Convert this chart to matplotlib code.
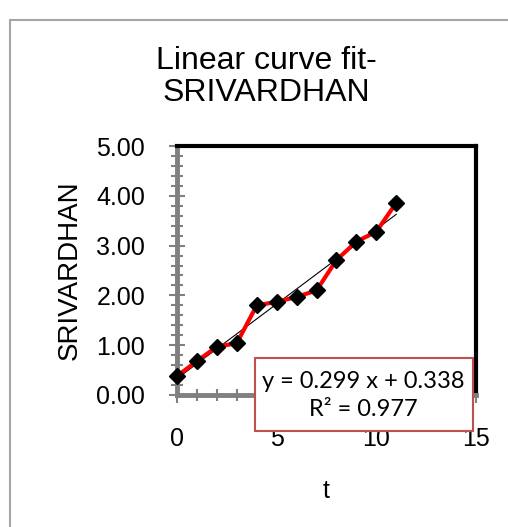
import numpy as np
import matplotlib.pyplot as plt
from matplotlib.patches import Rectangle
from matplotlib.ticker import MultipleLocator, FormatStrFormatter

# data
t = [0, 1, 2, 3, 4, 5, 6, 7, 8, 9, 10, 11]
srivardhan = [0.38, 0.68, 0.97, 1.04, 1.80, 1.87, 1.97, 2.10, 2.71, 3.08, 3.28, 3.86]
eq_text = "y = 0.299 x + 0.338"
r2_text = "R² = 0.977"
title_text = "Linear curve fit-\nSRIVARDHAN"

W, H = 508, 527
plt.rcParams['font.family'] = ['Liberation Sans', 'DejaVu Sans']

fig = plt.figure(figsize=(W / 100, H / 100), dpi=100)

# outer chart frame
fig.patches.append(Rectangle((10 / W, -0.05), 1.2, 1 - 20 / H + 0.05,
                             transform=fig.transFigure, fill=False,
                             edgecolor='#a6a6a6', linewidth=1.5))

ax = fig.add_axes([177 / W, 1 - 395 / H, 299 / W, 249 / H])

# trendline
coef = np.polyfit(t, srivardhan, 1)
tt = np.array([t[0], t[-1]])
ax.plot(tt, np.polyval(coef, tt), color='black', linewidth=0.8, zorder=3)

# series
ax.plot(t, srivardhan, color='red', linewidth=3, zorder=4)
ax.plot(t, srivardhan, linestyle='none', marker='D', markersize=8,
        color='black', zorder=5, clip_on=False)

ax.set_xlim(0, 15)
ax.set_ylim(0, 5)
ax.xaxis.set_major_locator(MultipleLocator(5))
ax.xaxis.set_minor_locator(MultipleLocator(1))
ax.yaxis.set_major_locator(MultipleLocator(1))
ax.yaxis.set_minor_locator(MultipleLocator(0.2))
ax.yaxis.set_major_formatter(FormatStrFormatter('%.2f'))

for side in ['left', 'bottom']:
    ax.spines[side].set_color('#808080')
    ax.spines[side].set_linewidth(3.5)
for side in ['top', 'right']:
    ax.spines[side].set_color('black')
    ax.spines[side].set_linewidth(3)
ax.axvline(0, color='black', linewidth=1, zorder=2.5, clip_on=False)
ax.axhline(0, color='black', linewidth=1, zorder=2.5, clip_on=False)

ax.tick_params(axis='both', which='major', direction='inout', length=12,
               width=1.5, color='#808080', labelsize=18)
ax.tick_params(axis='both', which='minor', direction='inout', length=9,
               width=1.5, color='#808080')
ax.tick_params(axis='y', which='major', pad=17)
ax.tick_params(axis='x', which='major', pad=17)

ax.set_xlabel('t', fontsize=18, labelpad=20)
ax.set_ylabel('SRIVARDHAN', fontsize=20, labelpad=10)
fig.text(266 / W, 1 - 77 / H, title_text, ha='center', va='center',
         fontsize=23, linespacing=1.12)

# equation box
fig.patches.append(Rectangle((255 / W, 1 - 431 / H), 218 / W, 73 / H,
                             transform=fig.transFigure, facecolor='white',
                             edgecolor='#c0504d', linewidth=1.5, zorder=10))
fig.text(363 / W, 1 - 382 / H, eq_text, ha='center', va='center',
         fontsize=17, family=['Lato', 'DejaVu Sans'], zorder=11)
fig.text(363 / W, 1 - 410 / H, r2_text, ha='center', va='center',
         fontsize=17, family=['Lato', 'DejaVu Sans'], zorder=11)

fig.savefig('out.png', dpi=100)
